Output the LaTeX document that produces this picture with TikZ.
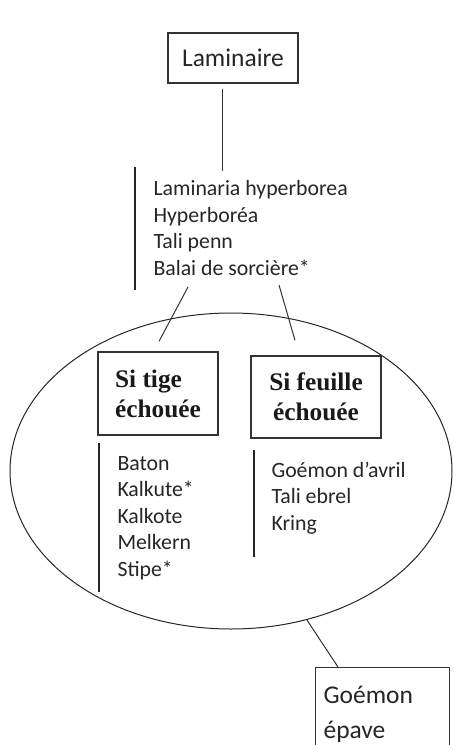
\documentclass[tikz,border=0pt]{standalone}
\usepackage{fontspec}
\setmainfont{Carlito}
\newfontfamily\headfont{Liberation Serif}
\usetikzlibrary{shapes.geometric, positioning, calc}

\begin{document}
\begin{tikzpicture}[
    x=1pt, y=1pt,
    line width=1pt,
    namebox/.style={rectangle, draw=black!80, line width=1.1pt,
                    font=\fontsize{25.5}{35}\selectfont, text=black!85},
    casebox/.style={rectangle, draw=black!80, line width=1.3pt,
                    font=\headfont\bfseries\fontsize{25.3}{30}\selectfont,
                    text=black!90, inner sep=0pt},
    names/.style={inner sep=0pt, align=left, text=black!85,
                  font=\fontsize{21.8}{26.5}\selectfont},
    bar/.style={line width=1.3pt, black!85},
    link/.style={line width=1pt, black!80},
]
\useasboundingbox (0,0) rectangle (454,-745);

%% Top: Laminaire and its names
\node[namebox, minimum width=130pt, minimum height=50pt] (lam) at (233,-58) {Laminaire};
\node[names, anchor=base west] (lamnames) at (153,-275)
    {Laminaria hyperborea\\Hyperboréa\\Tali penn\\Balai de sorcière*};

%% Washed-up part
\node[ellipse, draw=black!85, line width=1pt, inner sep=0pt,
      minimum width=442pt, minimum height=316pt] (pool) at (231,-471) {};
\node[casebox, align=left, minimum width=120pt, minimum height=83pt]
    (tige) at (158,-393.5) {Si tige\\échouée};
\node[casebox, align=center, minimum width=130pt, minimum height=82pt]
    (feuille) at (316,-397) {Si feuille\\échouée};

\node[names, anchor=base west] (tigenames) at (117,-576)
    {Baton\\Kalkute*\\Kalkote\\Melkern\\Stipe*};
\node[names, anchor=base west] (feuillenames) at (271,-530)
    {Goémon d’avril\\Tali ebrel\\Kring};

%% Goémon épave
\node[namebox, anchor=north west, align=left, inner xsep=8pt, inner ysep=19pt,
      text width=118pt] (epave) at (315,-667) {Goémon\\épave};

%% Side bars
\draw[bar] ([shift={(-18,108)}]lamnames.base west) -- ++(0,-123);
\draw[bar] ([shift={(-18,133)}]tigenames.base west) -- ++(0,-149);
\draw[bar] ([shift={(-17,80)}]feuillenames.base west) -- ++(0,-107);

%% Links
\draw[link] ([shift={(-11,-5)}]lam.south) -- ([shift={(69,104)}]lamnames.base west);
\draw[link] ([shift={(35,-12)}]lamnames.base west) -- ([shift={(1,10)}]tige.north);
\draw[link] ([shift={(126,-10)}]lamnames.base west) -- ([shift={(-21,15)}]feuille.north);
\draw[link] (pool.-63) -- ([xshift=23pt]epave.north west);

\end{tikzpicture}
\end{document}
